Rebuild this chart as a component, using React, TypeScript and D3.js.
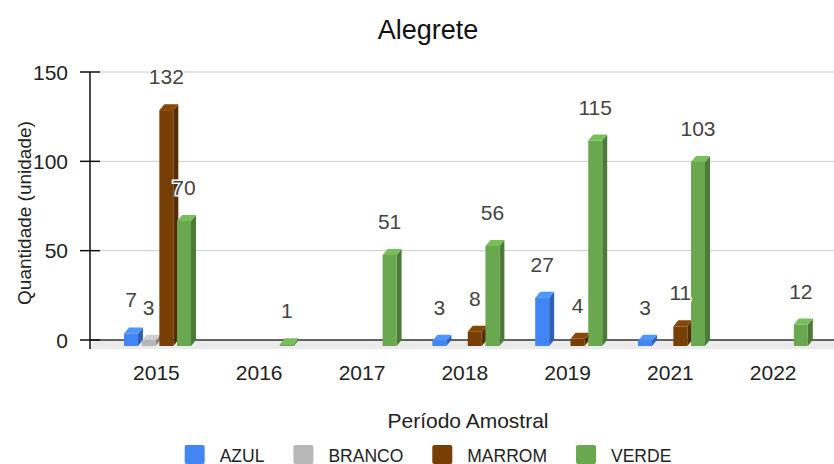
import React, { useEffect, useRef } from 'react';
import * as d3 from 'd3';

const categories = ['2015', '2016', '2017', '2018', '2019', '2021', '2022'];
const seriesNames = ['AZUL', 'BRANCO', 'MARROM', 'VERDE'];
const azul = [7, 0, 0, 3, 27, 3, 0];
const branco = [3, 0, 0, 0, 0, 0, 0];
const marrom = [132, 0, 0, 8, 4, 11, 0];
const verde = [70, 1, 51, 56, 115, 103, 12];
const yTicks = [0, 50, 100, 150];
const colors = ['#4285f4', '#b7b7b7', '#783f04', '#6aa84f'];

const width = 834;
const height = 464;
const font = '"Liberation Sans", Arial, sans-serif';

export default function App() {
  const svgRef = useRef<SVGSVGElement>(null);

  useEffect(() => {
    document.body.style.margin = '0';
    const svg = d3.select(svgRef.current);
    svg.selectAll('*').remove();

    const values = [azul, branco, marrom, verde];
    const depthX = 5;
    const depthY = 6;
    const axisX = 90;
    const right = width;

    // y maps onto the back plane, front faces sit depthY lower
    const y = d3.scaleLinear().domain([0, 150]).range([340, 72]);
    const x = d3.scaleBand().domain(categories).range([105, 105 + 7 * 102.8]);
    const xs = d3.scaleBand<number>().domain([0, 1, 2, 3]).range([19, 86]).paddingInner(0.21);

    // floor
    svg.append('polygon')
      .attr('points', `${axisX + 5},${y(0)} ${right},${y(0)} ${right},${y(0) + 9} ${axisX},${y(0) + 9}`)
      .attr('fill', '#ebebeb');

    // grid
    svg.append('g').selectAll('line')
      .data(yTicks.filter(t => t > 0))
      .enter().append('line')
      .attr('x1', axisX + 10).attr('x2', right)
      .attr('y1', d => y(d)).attr('y2', d => y(d))
      .attr('stroke', '#cccccc').attr('stroke-width', 1);

    svg.append('line')
      .attr('x1', axisX).attr('x2', right)
      .attr('y1', y(0)).attr('y2', y(0))
      .attr('stroke', '#333').attr('stroke-width', 1.3);

    // axis + ticks
    svg.append('line')
      .attr('x1', axisX).attr('x2', axisX)
      .attr('y1', y(150)).attr('y2', y(0) + 9)
      .attr('stroke', '#111').attr('stroke-width', 1.5);
    svg.append('g').selectAll('line')
      .data(yTicks)
      .enter().append('line')
      .attr('x1', axisX - 10).attr('x2', axisX + 10)
      .attr('y1', d => y(d)).attr('y2', d => y(d))
      .attr('stroke', '#111').attr('stroke-width', 1.5);
    svg.append('g').selectAll('text')
      .data(yTicks)
      .enter().append('text')
      .attr('x', 68).attr('y', d => y(d))
      .attr('dy', '0.36em')
      .attr('text-anchor', 'end')
      .attr('font-size', 21)
      .attr('fill', '#222')
      .text(d => d);

    // category labels
    svg.append('g').selectAll('text')
      .data(categories)
      .enter().append('text')
      .attr('x', d => (x(d) as number) + x.bandwidth() / 2)
      .attr('y', 380)
      .attr('text-anchor', 'middle')
      .attr('font-size', 21)
      .attr('fill', '#222')
      .text(d => d);

    // bars
    const bars: { c: string; s: number; v: number }[] = [];
    categories.forEach((c, ci) => {
      values.forEach((arr, s) => {
        if (arr[ci] > 0) bars.push({ c, s, v: arr[ci] });
      });
    });

    const g = svg.append('g');
    const w = xs.bandwidth();
    bars.forEach(b => {
      const x0 = (x(b.c) as number) + (xs(b.s) as number);
      const yf = y(b.v) + depthY;
      const yb = y(0) + depthY;
      const base = d3.color(colors[b.s]) as d3.RGBColor;
      g.append('polygon')
        .attr('points', `${x0 + w},${yf} ${x0 + w + depthX},${yf - depthY} ${x0 + w + depthX},${yb - depthY} ${x0 + w},${yb}`)
        .attr('fill', base.darker(0.9).toString());
      g.append('polygon')
        .attr('points', `${x0},${yf} ${x0 + depthX},${yf - depthY} ${x0 + w + depthX},${yf - depthY} ${x0 + w},${yf}`)
        .attr('fill', base.brighter(0.35).toString());
      g.append('rect')
        .attr('x', x0).attr('y', yf)
        .attr('width', w).attr('height', yb - yf)
        .attr('fill', colors[b.s]);
    });

    // value labels
    svg.append('g').selectAll('text')
      .data(bars)
      .enter().append('text')
      .attr('x', d => (x(d.c) as number) + (xs(d.s) as number) + w / 2)
      .attr('y', d => y(d.v) - 20)
      .attr('text-anchor', 'middle')
      .attr('font-size', 21)
      .attr('fill', '#444')
      .attr('stroke', '#fff').attr('stroke-width', 3)
      .attr('paint-order', 'stroke')
      .text(d => d.v);

    // titles
    svg.append('text')
      .attr('x', 428).attr('y', 39)
      .attr('text-anchor', 'middle')
      .attr('font-size', 27)
      .attr('fill', '#111')
      .text('Alegrete');
    svg.append('text')
      .attr('transform', `translate(31,${(y(0) + y(150)) / 2 + 7}) rotate(-90)`)
      .attr('text-anchor', 'middle')
      .attr('font-size', 19)
      .attr('fill', '#222')
      .text('Quantidade (unidade)');
    svg.append('text')
      .attr('x', 468).attr('y', 428)
      .attr('text-anchor', 'middle')
      .attr('font-size', 21)
      .attr('fill', '#222')
      .text('Período Amostral');

    // legend
    const legend = svg.append('g');
    let lx = 0;
    seriesNames.forEach((name, i) => {
      const item = legend.append('g').attr('transform', `translate(${lx},0)`);
      item.append('rect')
        .attr('x', 0).attr('y', 445)
        .attr('width', 20).attr('height', 19)
        .attr('rx', 2)
        .attr('fill', colors[i]);
      const t = item.append('text')
        .attr('x', 35).attr('y', 462)
        .attr('font-size', 17.5)
        .attr('fill', '#222')
        .text(name);
      const tw = (t.node() as SVGTextElement).getComputedTextLength();
      lx += 35 + tw + 29;
    });
    const total = lx - 29;
    legend.attr('transform', `translate(${428 - total / 2},0)`);
  }, []);

  return (
    <svg
      ref={svgRef}
      width={width}
      height={height}
      style={{ display: 'block', fontFamily: font }}
    />
  );
}
